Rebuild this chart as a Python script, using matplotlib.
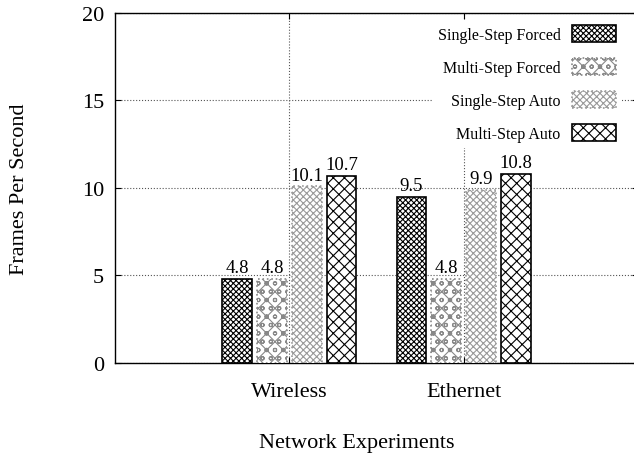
import numpy as np
import matplotlib
matplotlib.use('Agg')
import matplotlib.pyplot as plt

categories = ["Wireless", "Ethernet"]
series_names = ["Single-Step Forced", "Multi-Step Forced", "Single-Step Auto", "Multi-Step Auto"]
single_forced = [4.8, 9.5]
multi_forced = [4.8, 4.8]
single_auto = [10.1, 9.9]
multi_auto = [10.7, 10.8]
yticks = [0, 5, 10, 15, 20]

plt.rcParams['font.family'] = ['Liberation Serif', 'DejaVu Serif']
plt.rcParams['hatch.linewidth'] = 0.8

fig = plt.figure(figsize=(6.34, 4.6), dpi=100)
# the plot box runs past the right edge of the picture, as in the original
ax = fig.add_axes([0.1814, 0.2087, 0.825, 0.7609])

# hatch, edge colour, edge style per series (gnuplot-ish fill patterns)
styles = [("xxxxxx", "black", "-"), ("xxoo", "#888888", ":"),
          ("xxxxx", "#999999", ":"), ("xxx", "black", "-")]
values = [single_forced, multi_forced, single_auto, multi_auto]
x = np.arange(1, len(categories) + 1)
step, width = 0.2, 0.17

for i, (vals, name, (hatch, ec, ls)) in enumerate(zip(values, series_names, styles)):
    pos = x + (i - 1.5) * step
    ax.bar(pos, vals, width=width, color="white", edgecolor=ec, hatch=hatch,
           linewidth=1.2, linestyle=ls, label=name, zorder=3)
    for p, v in zip(pos, vals):
        ax.text(p, v + 0.15, f"{v}", ha="center", va="bottom", fontsize=13.5, zorder=6)

ax.set_xlim(0, 3)
ax.set_ylim(0, 20)
ax.set_xticks(x)
ax.set_xticklabels(categories)
ax.set_yticks(yticks)
ax.tick_params(direction="in", top=True, right=True, labelsize=16, length=4)
ax.tick_params(axis="x", pad=14)
ax.tick_params(axis="y", pad=8)
ax.grid(True, linestyle=":", color="#555555", linewidth=0.8, zorder=0)
ax.set_axisbelow(True)
for s in ax.spines.values():
    s.set_linewidth(1.0)

ax.set_xlabel("Network Experiments", fontsize=16)
ax.xaxis.set_label_coords(0.463, -0.2)
ax.set_ylabel("Frames Per Second", fontsize=16, labelpad=38)

leg = ax.legend(loc="upper right", bbox_to_anchor=(0.981, 0.955),
                bbox_transform=fig.transFigure, markerfirst=False,
                fontsize=11.5, frameon=True, fancybox=False, edgecolor="none",
                facecolor="white", framealpha=1, labelspacing=0.97,
                handlelength=2.8, handleheight=1.2, borderaxespad=0,
                borderpad=0.35, handletextpad=0.7)
leg.set_zorder(2)

fig.savefig("out.png", dpi=100)
